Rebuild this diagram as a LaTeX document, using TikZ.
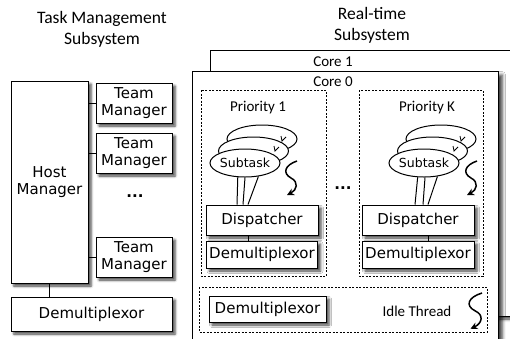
\documentclass[tikz,border=0pt]{standalone}
\usepackage{fontspec}
\setmainfont{DejaVu Sans}
\newfontfamily\labelfont{Carlito}
\usetikzlibrary{shapes.geometric,shadows.blur,arrows.meta,calc}

% looks shared by the boxes of both subsystems
\tikzset{
	box/.style={draw, fill=white, line width=1pt, inner sep=1pt, align=center,
		blur shadow={shadow xshift=3pt, shadow yshift=-3pt, shadow blur radius=2.5pt, shadow opacity=75},
		font=\fontsize{15}{17}\selectfont},
	group/.style={draw, dash pattern=on 2pt off 1.5pt, line width=0.9pt},
	subtask/.style={ellipse, draw, fill=white, line width=1pt, minimum width=70pt, minimum height=28pt,
		inner sep=-1.5pt, font=\fontsize{12.5}{14}\selectfont},
	title/.style={font=\labelfont\fontsize{17.5}{21}\selectfont, align=center},
	caption/.style={font=\labelfont\fontsize{15}{17}\selectfont},
	link/.style={line width=1pt},
	thread/.pic={\draw[line width=1.5pt, -{Stealth[length=7pt,width=7pt]}]
		(0,0) .. controls (-12,4) and (-15,12) .. (-6,17) .. controls (2,21) and (0,29) .. (-10,34);},
	tick/.pic={\draw[line width=0.8pt] (-1,-4) -- (0,1) -- (4,-3);}
}

\begin{document}
\begin{tikzpicture}[x=1pt, y=-1pt]
	\useasboundingbox (0,0) rectangle (510,338);
	\clip (0,0) rectangle (510,338);

	% task management side
	\node[title] (tmtitle) at (102,29) {Task Management\\Subsystem};
	\node[box, minimum width=77pt, minimum height=202pt] (host) at (49.5,182) {Host\\Manager};
	\node[box, minimum width=76pt, minimum height=40pt] (team1) at (134,103) {Team\\Manager};
	\node[box, minimum width=76pt, minimum height=40pt] (team2) at (134,153) {Team\\Manager};
	\node[box, minimum width=76pt, minimum height=40pt] (team3) at (134,257) {Team\\Manager};
	\node[font=\bfseries\fontsize{15}{17}\selectfont] (tmdots) at (135,196) {...};
	\node[box, minimum width=161pt, minimum height=34pt] (hostdemux) at (91.5,314) {Demultiplexor};
	\foreach \t in {team1,team2,team3}
		\draw[link] (host.east |- \t.west) -- (\t.west);
	\draw[link] (host.south) -- (host.south |- hostdemux.north);

	% real-time side: two cores, core 0 in front
	\node[title] (rttitle) at (372,25) {Real-time\\Subsystem};
	\draw[line width=1pt, fill=white, blur shadow={shadow xshift=3pt, shadow yshift=-3pt, shadow blur radius=3pt, shadow opacity=75}]
		(210,50) rectangle (530,316);
	\node[caption] (core1) at (333,62) {Core 1};
	\draw[line width=1pt, fill=white, blur shadow={shadow xshift=4pt, shadow yshift=-4pt, shadow blur radius=3.5pt, shadow opacity=80}]
		(192,71) rectangle (498,350);
	\node[caption] (core0) at (333,82) {Core 0};

	% priority 1
	\draw[group] (201,90) rectangle (326,276);
	\node[caption] (prio1) at (258,108) {Priority 1};
	\node[subtask] (sub1a) at (262,139) {};
	\node[subtask] (sub1b) at (253.5,151) {};
	\node[subtask] (sub1c) at (245,163) {Subtask};
	\pic at ($(sub1a)+(20,1)$) {tick};
	\pic at ($(sub1b)+(21.5,-1)$) {tick};
	\pic at (297,161) {thread};
	\node[box, minimum width=112pt, minimum height=30pt] (disp1) at (262,220) {Dispatcher};
	\node[box, minimum width=111pt, minimum height=27pt] (demux1) at (262,254.5) {Demultiplexor};
	\foreach \a/\b in {243/-25,270/-19,315/-14}
		\draw[link] (sub1c.\a) -- ($(disp1.north)+(\b,0)$);
	\draw[link] ($(disp1.south)+(-14,0)$) -- ($(demux1.north)+(-14,0)$);

	\node[font=\bfseries\fontsize{15}{17}\selectfont] (rtdots) at (343,188) {...};

	% priority K
	\draw[group] (359,90) rectangle (483,276);
	\node[caption] (prioK) at (427,108) {Priority K};
	\node[subtask] (subKa) at (441,139) {};
	\node[subtask] (subKb) at (432.5,151) {};
	\node[subtask] (subKc) at (424,163) {Subtask};
	\pic at ($(subKa)+(20,1)$) {tick};
	\pic at ($(subKb)+(21.5,-1)$) {tick};
	\pic at (477,161) {thread};
	\node[box, minimum width=112pt, minimum height=30pt] (dispK) at (418,220) {Dispatcher};
	\node[box, minimum width=112pt, minimum height=27pt] (demuxK) at (418,254.5) {Demultiplexor};
	\foreach \a/\b in {246/-3,274/5,315/10}
		\draw[link] (subKc.\a) -- ($(dispK.north)+(\b,0)$);
	\draw[link] ($(dispK.south)+(10,0)$) -- ($(demuxK.north)+(10,0)$);

	% idle thread
	\draw[group] (199,287) rectangle (487,332);
	\node[box, minimum width=117pt, minimum height=26pt] (idledemux) at (267.5,309) {Demultiplexor};
	\node[caption] (idle) at (417,311) {Idle Thread};
	\pic[xscale=1.15, yscale=1.05] at (482,293) {thread};
\end{tikzpicture}
\end{document}
